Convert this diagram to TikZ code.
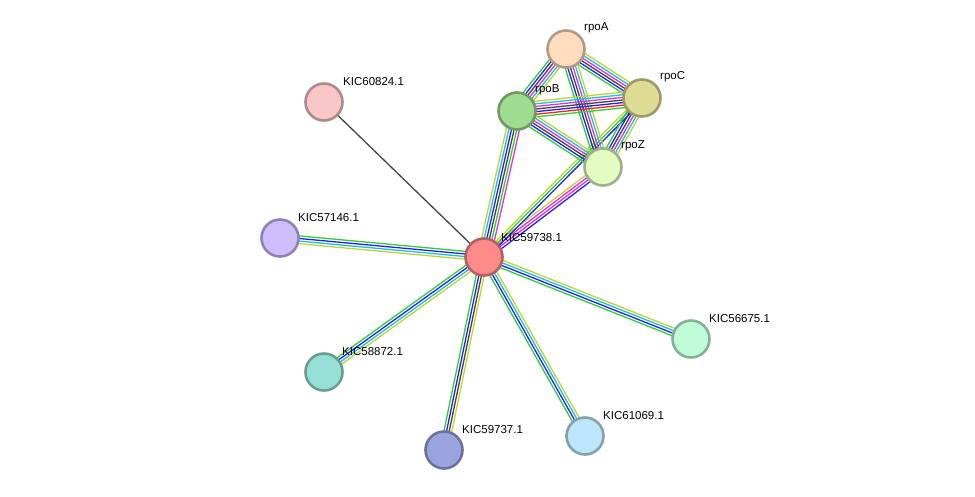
\documentclass[tikz,border=0pt]{standalone}
\usepackage{fontspec}
\setmainfont{Liberation Sans}
\usetikzlibrary{calc,backgrounds}
\definecolor{sg}{HTML}{33CC33}
\definecolor{sb}{HTML}{2222EE}
\definecolor{sk}{HTML}{444444}
\definecolor{sm}{HTML}{DD33DD}
\definecolor{sc}{HTML}{22BBEE}
\definecolor{sy}{HTML}{BBD633}
\definecolor{sr}{HTML}{FF2222}
\definecolor{cC}{HTML}{FF8A8A}
\definecolor{cA}{HTML}{FFDCC0}
\definecolor{cRC}{HTML}{DEDC94}
\definecolor{cB}{HTML}{9EDC90}
\definecolor{cZ}{HTML}{E2FCC2}
\definecolor{c1}{HTML}{F8C6C6}
\definecolor{c2}{HTML}{CDBDFC}
\definecolor{c3}{HTML}{96E0D6}
\definecolor{c4}{HTML}{9AA4DE}
\definecolor{c5}{HTML}{BEE6FA}
\definecolor{c6}{HTML}{BEFCD8}
\tikzset{
 prot/.style={circle,minimum size=37pt,inner sep=0pt,line width=2.6pt,draw=#1!70!black,fill=#1},
 lab/.style={font=\fontsize{11.5pt}{13pt}\selectfont,anchor=south west,inner sep=1pt},
 e/.style={line width=1.3pt}
}
\newcommand\medge[4]{%
 \foreach \cc [count=\ii] in {#4}{%
  \pgfmathsetmacro\oo{(\ii-(#3+1)/2)*2.6}%
  \draw[e,\cc] ($(#1.center)!\oo pt!90:(#2.center)$) -- ($(#2.center)!\oo pt!-90:(#1.center)$);
 }}
\begin{document}
\begin{tikzpicture}[x=1pt,y=-1pt]
\useasboundingbox (0,0) rectangle (975,496);
\node[prot=cC] (c) at (484,257) {};
\node[prot=cA] (rpoA) at (566,49) {};
\node[prot=cRC] (rpoC) at (642,98) {};
\node[prot=cB] (rpoB) at (517,111) {};
\node[prot=cZ] (rpoZ) at (603,167) {};
\node[prot=c1] (k60824) at (324,102) {};
\node[prot=c2] (k57146) at (280,238) {};
\node[prot=c3] (k58872) at (324,372) {};
\node[prot=c4] (k59737) at (444,450) {};
\node[prot=c5] (k61069) at (585,436) {};
\node[prot=c6] (k56675) at (691,339) {};
\begin{pgfonlayer}{background}
\draw[e,sk] (c.center) -- (k60824.center);
\medge{c}{k57146}{4}{sg,sb,sc,sy}
\medge{c}{k58872}{4}{sg,sb,sc,sy}
\medge{c}{k59737}{4}{sg,sb,sk,sy}
\medge{c}{k61069}{4}{sg,sb,sc,sy}
\medge{c}{k56675}{4}{sg,sb,sc,sy}
\medge{c}{rpoB}{6}{sm,sg,sk,sb,sc,sy}
\medge{c}{rpoZ}{4}{sb,sm,sm,sy}
\medge{c}{rpoC}{3}{sb,sg,sy}
\medge{rpoA}{rpoB}{6}{sg,sb,sk,sm,sc,sy}
\medge{rpoA}{rpoC}{6}{sg,sb,sk,sm,sc,sy}
\medge{rpoA}{rpoZ}{6}{sg,sb,sk,sm,sc,sy}
\medge{rpoB}{rpoC}{7}{sg,sr,sb,sk,sm,sc,sy}
\medge{rpoB}{rpoZ}{6}{sg,sb,sk,sm,sc,sy}
\medge{rpoC}{rpoZ}{6}{sg,sb,sk,sm,sc,sy}
\end{pgfonlayer}
\node[lab] at (500,243) {KIC59738.1};
\node[lab] at (583,34) {rpoA};
\node[lab] at (659,83) {rpoC};
\node[lab] at (534,96) {rpoB};
\node[lab] at (620,152) {rpoZ};
\node[lab] at (342,87) {KIC60824.1};
\node[lab] at (297,223) {KIC57146.1};
\node[lab] at (341,357) {KIC58872.1};
\node[lab] at (461,435) {KIC59737.1};
\node[lab] at (602,421) {KIC61069.1};
\node[lab] at (708,324) {KIC56675.1};
\end{tikzpicture}
\end{document}
